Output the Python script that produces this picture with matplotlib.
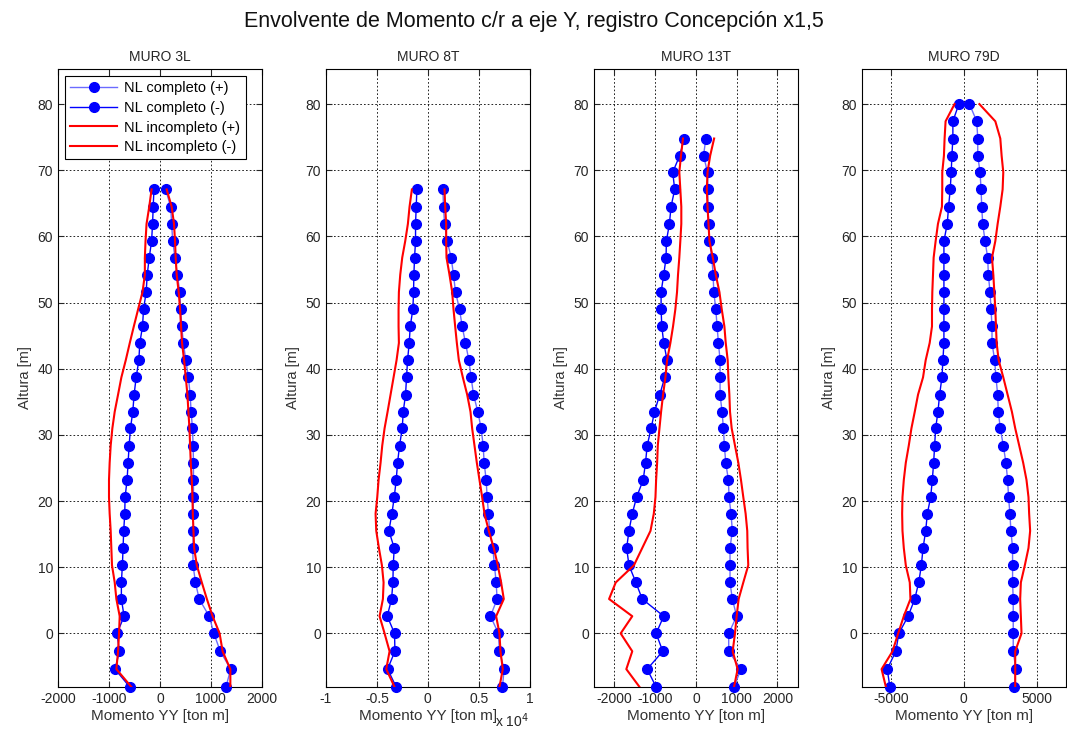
import numpy as np
import matplotlib.pyplot as plt
from matplotlib.ticker import FuncFormatter

plt.rcParams['font.family'] = ['Liberation Sans', 'DejaVu Sans']
plt.rcParams['axes.unicode_minus'] = False

# alturas de piso [m], desde el techo del muro mas alto hasta el ultimo subterraneo
altura = [80.0, 77.4, 74.8, 72.2, 69.7, 67.1, 64.5, 61.9, 59.3, 56.8, 54.2, 51.6,
          49.0, 46.4, 43.9, 41.3, 38.7, 36.1, 33.5, 31.0, 28.4, 25.8, 23.2, 20.6,
          18.1, 15.5, 12.9, 10.3, 7.7, 5.2, 2.6, 0.0, -2.7, -5.4, -8.1]

muros = ['MURO 3L', 'MURO 8T', 'MURO 13T', 'MURO 79D']

# MURO 3L
nlc_pos_3L = [112, 210, 230, 250, 296, 342, 388, 408, 428, 460, 507, 559, 592, 612, 638,
              651, 658, 658, 658, 651, 658, 645, 651, 697, 770, 967, 1059, 1184, 1388, 1296]
nlc_neg_3L = [-118, -132, -145, -164, -210, -250, -270, -322, -342, -395, -414, -467, -507,
              -533, -579, -605, -625, -645, -684, -691, -711, -724, -737, -757, -757, -704,
              -842, -796, -882, -592]
nli_pos_3L = [132, 230, 276, 296, 309, 329, 368, 395, 414, 434, 474, 507, 539, 559, 579,
              592, 605, 625, 638, 645, 658, 671, 724, 822, 921, 1033, 1171, 1230, 1382, 1382]
nli_neg_3L = [-164, -210, -263, -283, -296, -296, -342, -428, -513, -592, -671, -757, -822,
              -888, -934, -967, -987, -1000, -1000, -987, -967, -954, -941, -888, -855, -790,
              -803, -822, -855, -559]

# MURO 8T
nlc_pos_8T = [1471, 1536, 1634, 1895, 2288, 2516, 2712, 3105, 3366, 3693, 4020, 4248, 4477,
              4902, 5229, 5425, 5523, 5719, 5817, 5948, 6046, 6373, 6536, 6699, 6797, 6144,
              6928, 7026, 7484, 7320]
nlc_neg_8T = [-1078, -1144, -1209, -1209, -1307, -1373, -1405, -1471, -1732, -1830, -1993,
              -2092, -2190, -2418, -2516, -2778, -2974, -3105, -3301, -3529, -3824, -3301,
              -3399, -3431, -3562, -3987, -3268, -3235, -3954, -3105]
nli_pos_8T = [1634, 1699, 1797, 1797, 1830, 2124, 2386, 2516, 2680, 2843, 3039, 3431, 3856,
              4183, 4346, 4575, 4804, 5065, 5327, 5556, 5980, 6471, 6863, 7190, 7451, 6699,
              7026, 7124, 7353, 7026]
nli_neg_8T = [-1569, -1797, -1961, -2222, -2516, -2712, -2843, -2876, -2876, -2843, -3072,
              -3366, -3660, -3954, -4248, -4477, -4641, -4837, -4967, -5131, -5065, -4804,
              -4510, -4346, -4412, -4739, -4248, -3758, -4085, -3268]

# MURO 13T
nlc_pos_13T = [244, 187, 285, 293, 293, 317, 333, 390, 423, 439, 488, 520, 553, 593, 593, 593,
               642, 675, 699, 732, 797, 813, 862, 894, 837, 837, 837, 894, 1000, 805, 805,
               1106, 935]
nlc_neg_13T = [-285, -398, -569, -520, -610, -650, -724, -732, -789, -854, -854, -837, -789,
               -707, -764, -886, -1016, -1098, -1195, -1236, -1293, -1455, -1561, -1642,
               -1699, -1642, -1472, -1317, -789, -976, -813, -1195, -976]
nli_pos_13T = [447, 350, 285, 268, 285, 309, 333, 415, 488, 577, 634, 699, 732, 780, 797, 821,
               837, 878, 959, 1041, 1106, 1163, 1220, 1260, 1268, 1285, 1163, 1049, 1000, 959,
               902, 1024, 935]
nli_neg_13T = [-317, -366, -407, -382, -358, -358, -382, -407, -439, -463, -504, -561, -626,
               -707, -748, -805, -854, -894, -935, -951, -976, -992, -1033, -1114, -1317,
               -1520, -1967, -2130, -1561, -1846, -1561, -1707, -1382]

# MURO 79D
nlc_pos_79D = [387, 888, 957, 957, 1116, 1185, 1230, 1298, 1458, 1640, 1686, 1800, 1868, 1936,
               1936, 2118, 2210, 2323, 2369, 2506, 2711, 2893, 3007, 3075, 3166, 3235, 3349,
               3349, 3349, 3394, 3394, 3394, 3394, 3576, 3462]
nlc_neg_79D = [-342, -752, -752, -820, -866, -934, -1048, -1139, -1367, -1367, -1367, -1367,
               -1367, -1367, -1367, -1435, -1503, -1663, -1777, -1936, -2005, -2073, -2164,
               -2278, -2506, -2620, -2802, -2916, -3098, -3371, -3827, -4465, -4670, -5262,
               -5080]
nli_pos_79D = [1071, 2164, 2506, 2597, 2711, 2665, 2506, 2323, 2164, 1936, 2027, 2096, 2164,
               2210, 2255, 2392, 2711, 3007, 3303, 3531, 3804, 4077, 4305, 4442, 4487, 4556,
               4442, 4191, 3918, 3872, 3918, 3964, 3531, 3531, 3531]
nli_neg_79D = [-638, -1253, -1321, -1367, -1481, -1481, -1503, -1777, -1936, -2073, -2118,
               -2164, -2187, -2187, -2346, -2620, -2802, -3144, -3371, -3599, -3781, -3986,
               -4123, -4214, -4237, -4214, -4123, -3986, -3713, -3667, -4123, -4510, -4897,
               -5649, -5353]

series = [
    (altura[5:], nlc_pos_3L, nlc_neg_3L, nli_pos_3L, nli_neg_3L),
    (altura[5:], nlc_pos_8T, nlc_neg_8T, nli_pos_8T, nli_neg_8T),
    (altura[2:], nlc_pos_13T, nlc_neg_13T, nli_pos_13T, nli_neg_13T),
    (altura, nlc_pos_79D, nlc_neg_79D, nli_pos_79D, nli_neg_79D),
]
xlims = [(-2000, 2000), (-10000, 10000), (-2500, 2500), (-7000, 7000)]
xticks = [[-2000, -1000, 0, 1000, 2000],
          [-10000, -5000, 0, 5000, 10000],
          [-2000, -1000, 0, 1000, 2000],
          [-5000, 0, 5000]]

fig = plt.figure(figsize=(10.67, 7.29), dpi=100)
fig.text(0.5, 0.971, 'Envolvente de Momento c/r a eje Y, registro Concepción x1,5',
         ha='center', va='center', fontsize=15.5, color='#111111')

lefts = [0.0544, 0.3055, 0.5567, 0.8078]
txt = '#262626'
for i, ax_left in enumerate(lefts):
    ax = fig.add_axes([ax_left, 0.0576, 0.191, 0.8477])
    h, cp, cn, ip, ineg = series[i]
    ax.plot(cp, h, '-o', color='#6b6bff', lw=1.0, mfc='blue', mec='blue', ms=7,
            label='NL completo (+)', clip_on=False, zorder=3)
    ax.plot(cn, h, '-o', color='#0000ff', lw=1.0, mfc='blue', mec='blue', ms=7,
            label='NL completo (-)', clip_on=False, zorder=3)
    ax.plot(ip, h, '-', color='red', lw=1.5, label='NL incompleto (+)', zorder=4)
    ax.plot(ineg, h, '-', color='red', lw=1.5, label='NL incompleto (-)', zorder=4)

    ax.set_xlim(xlims[i])
    ax.set_ylim(-8.1, 85.3)
    ax.set_xticks(xticks[i])
    ax.set_yticks(range(0, 81, 10))
    if i == 1:
        ax.xaxis.set_major_formatter(FuncFormatter(lambda v, p: '%g' % (v / 1e4)))
        ax.text(0.83, -0.055, r'x 10$^4$', transform=ax.transAxes, fontsize=10,
                color=txt, ha='left', va='center')
    ax.grid(True, color='black', linestyle=(0, (2, 2.5)), linewidth=0.6)
    ax.tick_params(direction='in', top=True, right=True, labelsize=10, colors=txt,
                   length=4, width=0.8)
    for s in ax.spines.values():
        s.set_linewidth(0.8)
    ax.set_title(muros[i], fontsize=10, color=txt, pad=6)
    ax.set_xlabel('Momento YY [ton m]', fontsize=11, color='#333333', labelpad=2)
    ax.set_ylabel('Altura [m]', fontsize=10.5, color='#333333', labelpad=4)

    if i == 0:
        leg = ax.legend(loc='upper left', fontsize=10.5, fancybox=False, framealpha=1,
                        edgecolor='black', borderaxespad=0.5, handlelength=3.2,
                        labelspacing=0.38, borderpad=0.35, handletextpad=0.5)
        leg.get_frame().set_linewidth(0.8)

fig.savefig('out.png', dpi=100)
